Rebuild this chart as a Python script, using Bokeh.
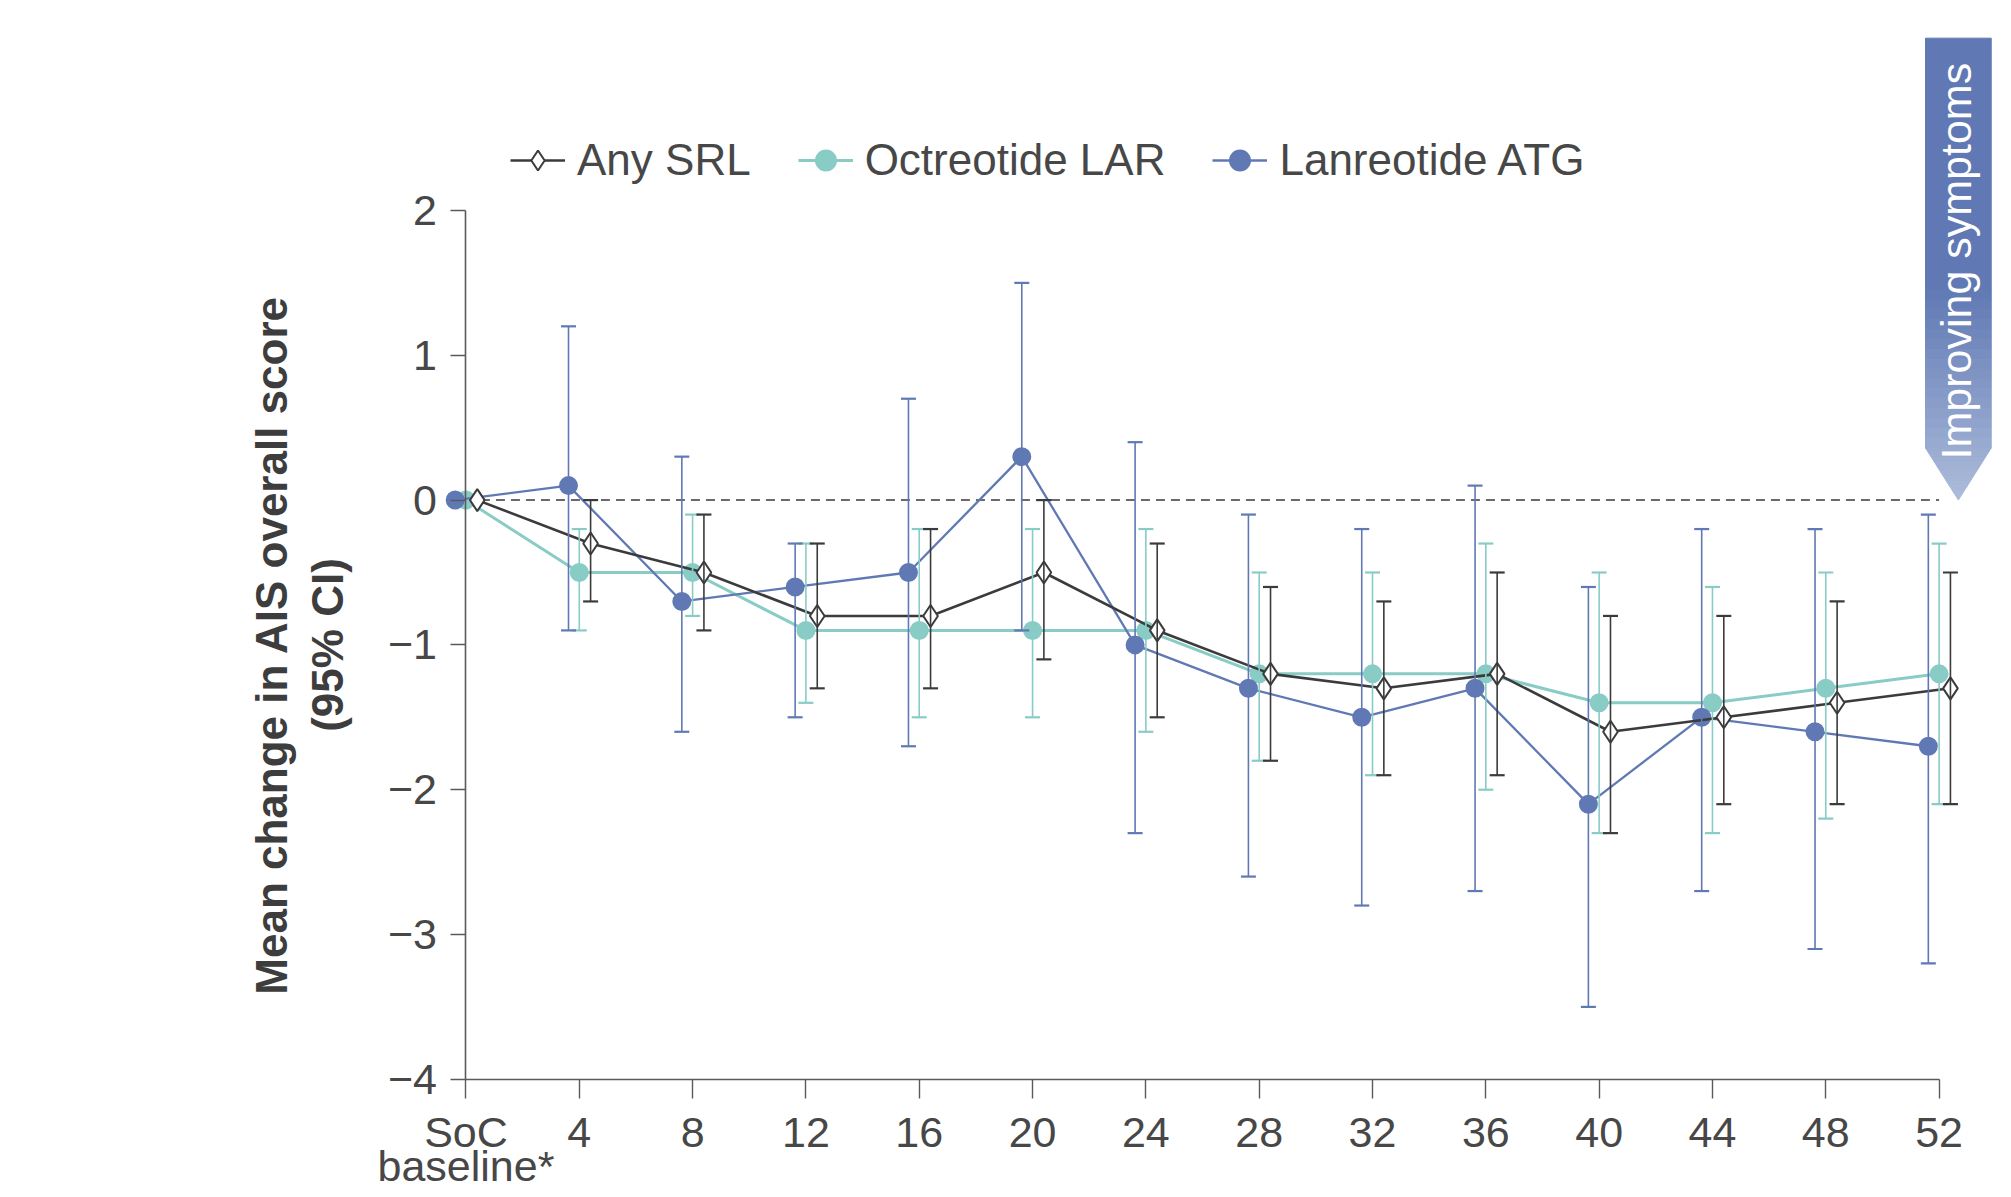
import numpy as np
from bokeh.plotting import figure
from bokeh.models import (ColumnDataSource, Range1d, LinearAxis, FixedTicker,
                          Whisker, TeeHead, Legend, LegendItem)
from bokeh.core.properties import value
from bokeh.embed import file_html
from bokeh.resources import INLINE

# ---------------- data ----------------
weeks = [0, 4, 8, 12, 16, 20, 24, 28, 32, 36, 40, 44, 48, 52]
x_tick_labels = ["SoC", "4", "8", "12", "16", "20", "24", "28",
                 "32", "36", "40", "44", "48", "52"]
x_tick_sublabel = "baseline*"
y_ticks = [-4, -3, -2, -1, 0, 1, 2]
y_tick_labels = ["\u22124", "\u22123", "\u22122", "\u22121", "0", "1", "2"]

series_names = ["Any SRL", "Octreotide LAR", "Lanreotide ATG"]

any_mean = [0, -0.3, -0.5, -0.8, -0.8, -0.5, -0.9, -1.2, -1.3, -1.2, -1.6, -1.5, -1.4, -1.3]
any_lower = [None, -0.7, -0.9, -1.3, -1.3, -1.1, -1.5, -1.8, -1.9, -1.9, -2.3, -2.1, -2.1, -2.1]
any_upper = [None, 0.0, -0.1, -0.3, -0.2, 0.0, -0.3, -0.6, -0.7, -0.5, -0.8, -0.8, -0.7, -0.5]

oct_mean = [0, -0.5, -0.5, -0.9, -0.9, -0.9, -0.9, -1.2, -1.2, -1.2, -1.4, -1.4, -1.3, -1.2]
oct_lower = [None, -0.9, -0.8, -1.4, -1.5, -1.5, -1.6, -1.8, -1.9, -2.0, -2.3, -2.3, -2.2, -2.1]
oct_upper = [None, -0.2, -0.1, -0.3, -0.2, -0.2, -0.2, -0.5, -0.5, -0.3, -0.5, -0.6, -0.5, -0.3]

lan_mean = [0, 0.1, -0.7, -0.6, -0.5, 0.3, -1.0, -1.3, -1.5, -1.3, -2.1, -1.5, -1.6, -1.7]
lan_lower = [None, -0.9, -1.6, -1.5, -1.7, -0.9, -2.3, -2.6, -2.8, -2.7, -3.5, -2.7, -3.1, -3.2]
lan_upper = [None, 1.2, 0.3, -0.3, 0.7, 1.5, 0.4, -0.1, -0.2, 0.1, -0.6, -0.2, -0.2, -0.1]

arrow_label = "Improving symptoms"

# ---------------- style ----------------
FONT = "Liberation Sans"
C_ANY = "#3b3b3b"
C_OCT = "#88ccc5"
C_LAN = "#6079b4"
TEXT = "#474747"

OFF_ANY, OFF_OCT, OFF_LAN = 0.40, 0.0, -0.38

p = figure(width=1995, height=1189,
           x_range=Range1d(-9.37, 53.92), y_range=Range1d(-4.761, 3.312),
           x_axis_type=None, y_axis_type=None,
           toolbar_location=None, output_backend="svg",
           min_border_left=200, min_border_right=2,
           min_border_top=20, min_border_bottom=0)
p.outline_line_color = None
p.background_fill_color = "white"

# axes
xaxis = LinearAxis(fixed_location=y_ticks[0], bounds=(weeks[0], weeks[-1]))
xaxis.ticker = FixedTicker(ticks=weeks)
xaxis.major_label_overrides = {w: l for w, l in zip(weeks, x_tick_labels)}
xaxis.minor_tick_line_color = None
xaxis.major_tick_in = 0
xaxis.major_tick_out = 19
xaxis.axis_line_color = "#5a5a5a"
xaxis.axis_line_width = 1.6
xaxis.major_tick_line_color = "#5a5a5a"
xaxis.major_tick_line_width = 1.4
xaxis.major_label_text_font = FONT
xaxis.major_label_text_font_size = "43px"
xaxis.major_label_text_color = TEXT
xaxis.major_label_standoff = 10
p.add_layout(xaxis, "below")

# second line of the first tick label
p.text(x=[weeks[0]], y=[y_ticks[0]], text=[x_tick_sublabel], y_offset=87,
       text_font=value(FONT), text_font_size="43px", text_color=TEXT,
       text_align="center", text_baseline="alphabetic")

yaxis = LinearAxis(fixed_location=0, bounds=(y_ticks[0], y_ticks[-1]))
yaxis.ticker = FixedTicker(ticks=y_ticks)
yaxis.major_label_overrides = {t: l for t, l in zip(y_ticks, y_tick_labels)}
yaxis.minor_tick_line_color = None
yaxis.major_tick_in = 0
yaxis.major_tick_out = 15
yaxis.axis_line_color = "#5a5a5a"
yaxis.axis_line_width = 1.6
yaxis.major_tick_line_color = "#5a5a5a"
yaxis.major_tick_line_width = 1.4
yaxis.major_label_text_font = FONT
yaxis.major_label_text_font_size = "43px"
yaxis.major_label_text_color = TEXT
yaxis.major_label_standoff = 14
yaxis.axis_label = "Mean change in AIS overall score\n(95% CI)"
yaxis.axis_label_text_font = FONT
yaxis.axis_label_text_font_size = "44px"
yaxis.axis_label_text_font_style = "bold"
yaxis.axis_label_text_color = "#3d3d3d"
yaxis.axis_label_text_line_height = 1.15
yaxis.axis_label_standoff = 32
p.add_layout(yaxis, "left")

# zero reference line
p.segment(x0=[weeks[0]], y0=[0], x1=[weeks[-1]], y1=[0],
          line_color="#3a3a3a", line_width=1.5, line_dash="9 6")

# ---------------- "Improving symptoms" arrow ----------------
AX0, AX1 = 51.52, 53.84
A_TOP, A_GRAD, A_NECK, A_TIP = 3.19, 1.45, 0.36, 0.0
AXC = (AX0 + AX1) / 2
c_top = np.array([0x60, 0x79, 0xb4], dtype=float)
c_bot = np.array([0xad, 0xbc, 0xda], dtype=float)

def hexc(c):
    return "#%02x%02x%02x" % tuple(int(round(v)) for v in c)

def half_w(y):
    if y >= A_NECK:
        return (AX1 - AX0) / 2
    return (AX1 - AX0) / 2 * (y - A_TIP) / (A_NECK - A_TIP)

xs, ys, cols = [], [], []
xs.append([AX0, AX1, AX1, AX0]); ys.append([A_TOP, A_TOP, A_GRAD, A_GRAD]); cols.append(hexc(c_top))
edges = list(np.linspace(A_GRAD, A_NECK, 17)) + list(np.linspace(A_NECK, A_TIP, 12))[1:]
for ya, yb in zip(edges[:-1], edges[1:]):
    t = ((A_GRAD - (ya + yb) / 2) / (A_GRAD - A_TIP))
    c = c_top + (c_bot - c_top) * t
    wa, wb = half_w(ya), half_w(yb)
    xs.append([AXC - wa, AXC + wa, AXC + wb, AXC - wb])
    ys.append([ya, ya, yb, yb])
    cols.append(hexc(c))
p.patches(xs=xs, ys=ys, fill_color=cols, line_color=cols, line_width=1)
p.text(x=[52.6], y=[1.65], text=[arrow_label], angle=np.pi / 2,
       text_font=value(FONT), text_font_size="43px", text_color="white",
       text_align="center", text_baseline="middle")

# ---------------- series ----------------
def add_series(mean, lower, upper, off, color, lw, marker, size, fill):
    x = [w + off for w in weeks]
    line_r = p.line(x, mean, line_color=color, line_width=lw)
    idx = [i for i, v in enumerate(lower) if v is not None]
    src = ColumnDataSource(dict(x=[x[i] for i in idx],
                                lo=[lower[i] for i in idx],
                                hi=[upper[i] for i in idx]))
    wk = Whisker(base="x", lower="lo", upper="hi", source=src, dimension="height",
                 line_color=color, line_width=1.6, level="glyph",
                 upper_head=TeeHead(size=15, line_color=color, line_width=2.2),
                 lower_head=TeeHead(size=15, line_color=color, line_width=2.2))
    p.add_layout(wk)
    sc_r = p.scatter(x, mean, marker=marker, size=size, fill_color=fill,
                     line_color=color, line_width=2)
    return line_r, sc_r

oct_r = add_series(oct_mean, oct_lower, oct_upper, OFF_OCT, C_OCT, 3.0, "circle", 17, C_OCT)
lan_r = add_series(lan_mean, lan_lower, lan_upper, OFF_LAN, C_LAN, 2.3, "circle", 17, C_LAN)
any_r = add_series(any_mean, any_lower, any_upper, OFF_ANY, C_ANY, 2.6, "diamond", 22, "white")

legend = Legend(items=[LegendItem(label=series_names[0], renderers=list(any_r)),
                       LegendItem(label=series_names[1], renderers=list(oct_r)),
                       LegendItem(label=series_names[2], renderers=list(lan_r))],
                orientation="horizontal", location=(310, 1004),
                glyph_width=55, glyph_height=50, label_standoff=12, spacing=47,
                padding=0, margin=0, border_line_alpha=0, background_fill_alpha=0,
                label_text_font=FONT, label_text_font_size="44px",
                label_text_color=TEXT)
p.add_layout(legend)

open("out.html", "w").write(file_html(p, INLINE))
